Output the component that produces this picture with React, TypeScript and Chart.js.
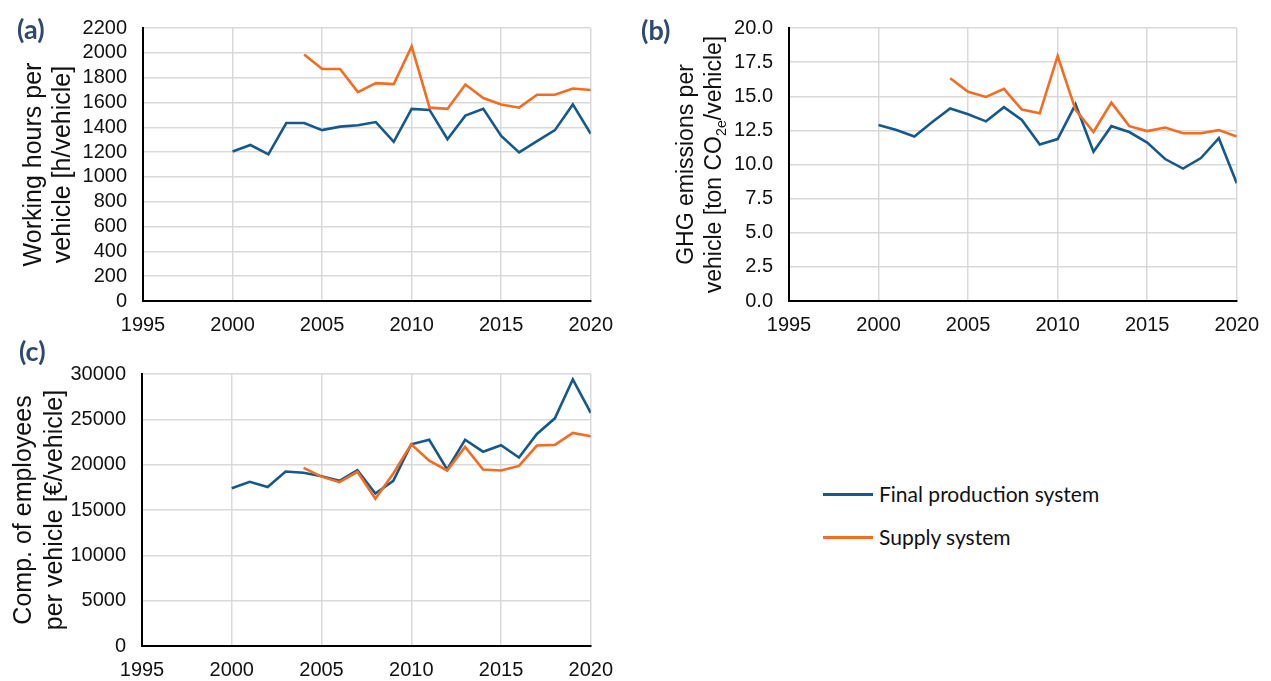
import React, { useEffect, useRef } from 'react';
import { Chart, registerables } from 'chart.js';

Chart.register(...registerables);

// ---------- data ----------
const years = [2000, 2001, 2002, 2003, 2004, 2005, 2006, 2007, 2008, 2009, 2010, 2011, 2012, 2013, 2014, 2015, 2016, 2017, 2018, 2019, 2020];

const hoursFinal = [1205, 1257, 1182, 1434, 1434, 1377, 1405, 1416, 1442, 1283, 1548, 1540, 1304, 1494, 1548, 1330, 1198, 1288, 1377, 1584, 1348];
const hoursSupply = [null, null, null, null, 1987, 1870, 1870, 1683, 1756, 1748, 2052, 1558, 1548, 1745, 1636, 1584, 1558, 1662, 1662, 1712, 1701];

const ghgFinal = [12.9, 12.52, 12.05, 13.11, 14.1, 13.68, 13.16, 14.2, 13.26, 11.46, 11.86, 14.41, 10.94, 12.81, 12.38, 11.6, 10.4, 9.7, 10.47, 11.93, 8.63];
const ghgSupply = [null, null, null, null, 16.32, 15.33, 14.95, 15.54, 14.03, 13.75, 17.95, 14.0, 12.38, 14.53, 12.81, 12.45, 12.71, 12.29, 12.29, 12.52, 12.05];

const compFinal = [17393, 18108, 17536, 19250, 19108, 18715, 18215, 19393, 16822, 18215, 22250, 22750, 19465, 22750, 21430, 22140, 20787, 23393, 25108, 29393, 25715];
const compSupply = [null, null, null, null, 19643, 18680, 18072, 19215, 16250, 19036, 22250, 20430, 19358, 21965, 19465, 19358, 19858, 22108, 22180, 23500, 23143];

const seriesLabels = ['Final production system', 'Supply system'];
const xMin = 1995;
const xMax = 2020;
const xStep = 5;

// ---------- styles ----------
const BLUE = '#15598C';
const ORANGE = '#F36C21';
const GRID = '#D9D9D9';
const TEXT = '#111111';
const FAMILY = '"Liberation Sans", Arial, sans-serif';
const LABEL_COLOR = '#2E4A6C';

type Seg = { t: string; sub?: boolean };
type TitleLine = { x: number; segs: Seg[] };

const yTitlePlugin = {
  id: 'yTitles',
  afterDraw(chart: any, _args: any, opts: any) {
    const lines: TitleLine[] = (opts && opts.lines) || [];
    if (!lines.length) return;
    const { ctx, chartArea } = chart;
    const size: number = opts.size;
    const cy = (chartArea.top + chartArea.bottom) / 2;
    ctx.save();
    ctx.fillStyle = TEXT;
    ctx.textBaseline = 'middle';
    ctx.textAlign = 'left';
    for (const line of lines) {
      let total = 0;
      const widths = line.segs.map((s) => {
        ctx.font = `${s.sub ? size * 0.62 : size}px ${FAMILY}`;
        const w = ctx.measureText(s.t).width;
        total += w;
        return w;
      });
      ctx.save();
      ctx.translate(line.x, cy);
      ctx.rotate(-Math.PI / 2);
      let px = -total / 2;
      line.segs.forEach((s, i) => {
        ctx.font = `${s.sub ? size * 0.62 : size}px ${FAMILY}`;
        ctx.fillText(s.t, px, s.sub ? size * 0.3 : 0);
        px += widths[i];
      });
      ctx.restore();
    }
    ctx.restore();
  },
};

type PanelCfg = {
  final: (number | null)[];
  supply: (number | null)[];
  ymax: number;
  step: number;
  fmt: (v: number) => string;
  yWidth: number;
  xHeight: number;
  padTop: number;
  padRight: number;
  titleSize: number;
  titles: TitleLine[];
};

function makeConfig(p: PanelCfg): any {
  const toPts = (arr: (number | null)[]) => years.map((x, i) => ({ x, y: arr[i] }));
  return {
    type: 'line',
    data: {
      datasets: [
        {
          label: seriesLabels[0],
          data: toPts(p.final),
          borderColor: BLUE,
          backgroundColor: BLUE,
          borderWidth: 2.6,
          pointRadius: 0,
          tension: 0,
          order: 1,
        },
        {
          label: seriesLabels[1],
          data: toPts(p.supply),
          borderColor: ORANGE,
          backgroundColor: ORANGE,
          borderWidth: 2.6,
          pointRadius: 0,
          tension: 0,
          order: 0,
        },
      ],
    },
    plugins: [yTitlePlugin],
    options: {
      responsive: false,
      animation: false,
      layout: { padding: { top: p.padTop, right: p.padRight, left: 0, bottom: 0 } },
      plugins: {
        legend: { display: false },
        tooltip: { enabled: false },
        yTitles: { size: p.titleSize, lines: p.titles },
      },
      scales: {
        x: {
          type: 'linear',
          min: xMin,
          max: xMax,
          ticks: {
            stepSize: xStep,
            color: TEXT,
            font: { family: FAMILY, size: 20 },
            padding: 12,
            maxRotation: 0,
            autoSkip: false,
            callback: (v: number) => String(v),
          },
          grid: { color: GRID, lineWidth: 1.5, drawTicks: false },
          border: { display: true, color: '#000', width: 2 },
          afterFit: (s: any) => {
            s.height = p.xHeight;
          },
        },
        y: {
          min: 0,
          max: p.ymax,
          ticks: {
            stepSize: p.step,
            color: TEXT,
            font: { family: FAMILY, size: 20 },
            padding: 16,
            autoSkip: false,
            callback: (v: number) => p.fmt(v),
          },
          grid: { color: GRID, lineWidth: 1.5, drawTicks: false },
          border: { display: true, color: '#000', width: 2 },
          afterFit: (s: any) => {
            s.width = p.yWidth;
          },
        },
      },
    },
  };
}

function Panel(props: { left: number; top: number; width: number; height: number; cfg: PanelCfg }) {
  const ref = useRef<HTMLCanvasElement>(null);
  useEffect(() => {
    const chart = new Chart(ref.current as HTMLCanvasElement, makeConfig(props.cfg));
    return () => chart.destroy();
  }, []);
  return (
    <canvas
      ref={ref}
      width={props.width}
      height={props.height}
      style={{ position: 'absolute', left: props.left, top: props.top, width: props.width, height: props.height }}
    />
  );
}

const cfgA: PanelCfg = {
  final: hoursFinal,
  supply: hoursSupply,
  ymax: 2200,
  step: 200,
  fmt: (v) => String(v),
  yWidth: 143,
  xHeight: 44,
  padTop: 19,
  padRight: 28,
  titleSize: 25,
  titles: [
    { x: 34, segs: [{ t: 'Working hours per' }] },
    { x: 63, segs: [{ t: 'vehicle [h/vehicle]' }] },
  ],
};

const cfgB: PanelCfg = {
  final: ghgFinal,
  supply: ghgSupply,
  ymax: 20,
  step: 2.5,
  fmt: (v) => v.toFixed(1),
  yWidth: 129,
  xHeight: 44,
  padTop: 19,
  padRight: 31,
  titleSize: 23,
  titles: [
    { x: 27, segs: [{ t: 'GHG emissions per' }] },
    { x: 55, segs: [{ t: 'vehicle [ton CO' }, { t: '2e', sub: true }, { t: '/vehicle]' }] },
  ],
};

const cfgC: PanelCfg = {
  final: compFinal,
  supply: compSupply,
  ymax: 30000,
  step: 5000,
  fmt: (v) => String(v),
  yWidth: 142,
  xHeight: 35,
  padTop: 20,
  padRight: 33,
  titleSize: 25,
  titles: [
    { x: 24, segs: [{ t: 'Comp. of employees' }] },
    { x: 55, segs: [{ t: 'per vehicle [€/vehicle]' }] },
  ],
};

const panelLabel: React.CSSProperties = {
  position: 'absolute',
  font: 'bold 27px Lato, "Noto Sans", sans-serif',
  color: LABEL_COLOR,
  lineHeight: '30px',
};

const legendText: React.CSSProperties = {
  position: 'absolute',
  font: '21px Lato, "Noto Sans", sans-serif',
  color: TEXT,
  lineHeight: '24px',
  whiteSpace: 'nowrap',
};

export default function App() {
  return (
    <div
      style={{
        position: 'absolute',
        left: 0,
        top: 0,
        width: 1271,
        height: 681,
        background: '#fff',
        overflow: 'hidden',
      }}
    >
      <Panel left={0} top={0} width={625} height={345} cfg={cfgA} />
      <Panel left={660} top={0} width={611} height={345} cfg={cfgB} />
      <Panel left={0} top={346} width={625} height={335} cfg={cfgC} />

      <div style={{ ...panelLabel, left: 17, top: 14 }}>(a)</div>
      <div style={{ ...panelLabel, left: 641, top: 15 }}>(b)</div>
      <div style={{ ...panelLabel, left: 19, top: 336 }}>(c)</div>

      <div style={{ position: 'absolute', left: 823, top: 493, width: 50, height: 2.5, background: BLUE }} />
      <div style={{ ...legendText, left: 879, top: 482 }}>{seriesLabels[0]}</div>
      <div style={{ position: 'absolute', left: 823, top: 536, width: 50, height: 2.5, background: ORANGE }} />
      <div style={{ ...legendText, left: 879, top: 525 }}>{seriesLabels[1]}</div>
    </div>
  );
}
